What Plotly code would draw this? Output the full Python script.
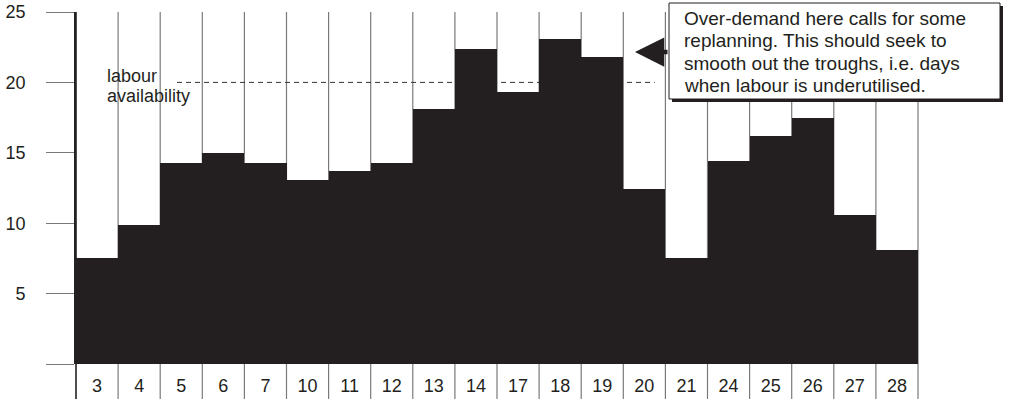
import plotly.graph_objects as go

# ---- data ----
days = ["3", "4", "5", "6", "7", "10", "11", "12", "13", "14",
        "17", "18", "19", "20", "21", "24", "25", "26", "27", "28"]
labour_demand = [7.5, 9.9, 14.3, 15.0, 14.3, 13.1, 13.7, 14.3, 18.1, 22.4,
                 19.3, 23.1, 21.8, 12.4, 7.5, 14.4, 16.2, 17.5, 10.6, 8.1]
labour_availability = 20
y_tick_values = [0, 5, 10, 15, 20, 25]
y_tick_labels = ["", "5", "10", "15", "20", "25"]
note_lines = ["Over-demand here calls for some",
              "replanning. This should seek to",
              "smooth out the troughs, i.e. days",
              "when labour is underutilised."]
avail_lines = ["labour", "availability"]

# ---- layout geometry (pixels) ----
FIG_W, FIG_H = 1010, 399
L, T, W, H = 76, 12, 842, 352
FONT = "Liberation Sans, Arial, Helvetica, sans-serif"
BAR = "#231f20"


def px(x):
    return (x - L) / W


def py(y):
    return (T + H - y) / H


fig = go.Figure()
fig.add_trace(go.Bar(x=days, y=labour_demand, marker=dict(color=BAR, line=dict(width=0)),
                     hoverinfo="x+y"))

n = len(days)
shapes = []
# column separators (extend through the label band)
for i in range(n + 1):
    shapes.append(dict(type="line", xref="paper", yref="paper", layer="below",
                       x0=i / n, x1=i / n, y0=py(FIG_H + 2), y1=1,
                       line=dict(color="#222" if i == 0 else "#7a7a7a",
                                 width=1.6 if i == 0 else 1.2)))
# labour availability dashed line
shapes.append(dict(type="line", xref="x", yref="y", layer="below",
                   x0=1.9, x1=13.25, y0=labour_availability, y1=labour_availability,
                   line=dict(color="#333", width=1, dash="5px,4px")))
# note box shadow + box
shapes.append(dict(type="rect", xref="paper", yref="paper", layer="above",
                   x0=px(672), x1=px(1003), y0=py(102), y1=py(6),
                   fillcolor=BAR, line=dict(width=0)))
shapes.append(dict(type="rect", xref="paper", yref="paper", layer="above",
                   x0=px(669), x1=px(1000), y0=py(99), y1=py(3),
                   fillcolor="white", line=dict(color="#231f20", width=1)))

annotations = []
for k, line in enumerate(note_lines):
    annotations.append(dict(xref="paper", yref="paper", x=px(682), y=py(18 + 22.5 * k),
                            xanchor="left", yanchor="middle", showarrow=False,
                            text=line, font=dict(family=FONT, size=19, color="#231f20")))
for k, line in enumerate(avail_lines):
    annotations.append(dict(xref="paper", yref="paper", x=px(105), y=py(76 + 20 * k),
                            xanchor="left", yanchor="middle", showarrow=False,
                            text=line, font=dict(family=FONT, size=18, color="#231f20")))
# arrow pointing at the over-demand peak
annotations.append(dict(xref="paper", yref="paper", x=px(635), y=py(52),
                        ax=34, ay=0, text="", showarrow=True,
                        arrowhead=2, arrowsize=1.3, arrowwidth=4.5, arrowcolor=BAR,
                        standoff=0))

fig.update_layout(
    template="none",
    width=FIG_W, height=FIG_H,
    margin=dict(l=L, r=FIG_W - L - W, t=T, b=FIG_H - T - H, pad=0),
    paper_bgcolor="white", plot_bgcolor="white",
    bargap=0, showlegend=False,
    font=dict(family=FONT, size=18, color="#231f20"),
    xaxis=dict(type="category", range=[-0.5, n - 0.5], showgrid=False, zeroline=False,
               automargin=False,
               showline=False, ticks="", ticklen=0, ticklabelstandoff=9,
               tickfont=dict(family=FONT, size=18, color="#231f20")),
    yaxis=dict(range=[0, 25], tickvals=y_tick_values, ticktext=y_tick_labels,
               automargin=False,
               ticks="outside", ticklen=28, tickwidth=1, tickcolor="#777",
               showgrid=False, zeroline=False, showline=True, linecolor="#222",
               linewidth=1.6, ticklabelstandoff=17,
               tickfont=dict(family=FONT, size=18, color="#231f20")),
    shapes=shapes, annotations=annotations,
)

fig.write_html(
    "out.html",
    config={"displayModeBar": False},
    post_script="document.body.style.margin='0px';document.body.style.overflow='hidden';",
)
